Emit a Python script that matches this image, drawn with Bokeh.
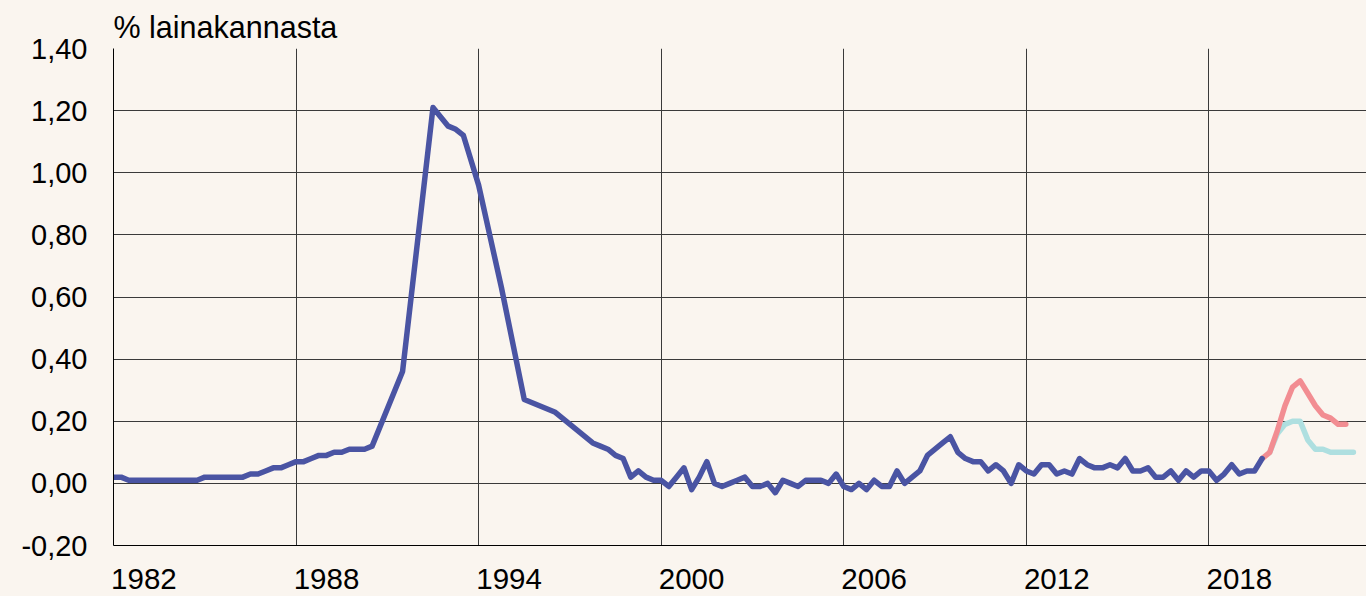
from bokeh.plotting import figure
from bokeh.models import Range1d, FixedTicker, CustomJSTickFormatter, GlobalInlineStyleSheet
from bokeh.embed import file_html
from bokeh.resources import INLINE

# ---------------- data ----------------
# realised credit losses, % of loan stock, quarterly
early_start = 1982.0
early_values = [0.02, 0.02, 0.01, 0.01,
                0.01, 0.01, 0.01, 0.01,
                0.01, 0.01, 0.01, 0.01,
                0.02, 0.02, 0.02, 0.02,
                0.02, 0.02, 0.03, 0.03,
                0.04, 0.05, 0.05, 0.06,
                0.07, 0.07, 0.08, 0.09,
                0.09, 0.10, 0.10, 0.11,
                0.11, 0.11, 0.12]

crisis_dates = [1991.5, 1992.5, 1993.0, 1993.25, 1993.5, 1994.0, 1994.75, 1995.5, 1996.5, 1997.75]
crisis_values = [0.36, 1.21, 1.15, 1.14, 1.12, 0.96, 0.63, 0.27, 0.23, 0.13]

late_start = 1998.0
late_values = [0.12, 0.11, 0.09, 0.08,    # 1998
               0.02, 0.04, 0.02, 0.01,    # 1999
               0.01, -0.01, 0.02, 0.05,   # 2000
               -0.02, 0.02, 0.07, 0.00,   # 2001
               -0.01, 0.00, 0.01, 0.02,   # 2002
               -0.01, -0.01, 0.00, -0.03, # 2003
               0.01, 0.00, -0.01, 0.01,   # 2004
               0.01, 0.01, 0.00, 0.03,    # 2005
               -0.01, -0.02, 0.00, -0.02, # 2006
               0.01, -0.01, -0.01, 0.04,  # 2007
               0.00, 0.02, 0.04, 0.09,    # 2008
               0.11, 0.13, 0.15, 0.10,    # 2009
               0.08, 0.07, 0.07, 0.04,    # 2010
               0.06, 0.04, 0.00, 0.06,    # 2011
               0.04, 0.03, 0.06, 0.06,    # 2012
               0.03, 0.04, 0.03, 0.08,    # 2013
               0.06, 0.05, 0.05, 0.06,    # 2014
               0.05, 0.08, 0.04, 0.04,    # 2015
               0.05, 0.02, 0.02, 0.04,    # 2016
               0.01, 0.04, 0.02, 0.04,    # 2017
               0.04, 0.01, 0.03, 0.06,    # 2018
               0.03, 0.04, 0.04, 0.08]    # 2019

high_start = 2019.75
high_values = [0.08, 0.10, 0.17, 0.25, 0.31, 0.33, 0.29, 0.25, 0.22, 0.21, 0.19, 0.19]

low_start = 2020.0
low_values = [0.10, 0.16, 0.19, 0.20, 0.20, 0.14, 0.11, 0.11, 0.10, 0.10, 0.10, 0.10]

y_ticks = [-0.2, 0.0, 0.2, 0.4, 0.6, 0.8, 1.0, 1.2, 1.4]
x_label_years = [1982, 1988, 1994, 2000, 2006, 2012, 2018]
x_grid_years = [1988, 1994, 2000, 2006, 2012, 2018]
title_text = "% lainakannasta"

# ---------------- styles ----------------
BG = "#FAF5EF"
BLUE = "#4A54A3"
RED = "#F28D92"
CYAN = "#AEDFE0"
GRID = "#3A3A3A"
FONT = "Liberation Sans"
LW = 5.5


def quarterly(start, values):
    return [start + 0.25 * i for i in range(len(values))]


actual_x = quarterly(early_start, early_values) + crisis_dates + quarterly(late_start, late_values)
actual_y = early_values + crisis_values + late_values

p = figure(frame_width=1253, frame_height=497,
           x_range=Range1d(1982.0, 2023.18), y_range=Range1d(-0.2, 1.4),
           output_backend="svg", toolbar_location=None,
           min_border_left=113, min_border_right=0, min_border_top=48, min_border_bottom=51,
           background_fill_color=BG, border_fill_color=BG, outline_line_color=None)

p.stylesheets = [GlobalInlineStyleSheet(
    css=f"html, body {{ background: {BG}; margin: 0; padding: 0; overflow: hidden; }}")]

# title
p.title.text = title_text
p.title.align = "left"
p.title.vertical_align = "top"
p.title.text_font = FONT
p.title.text_font_size = "30.5px"
p.title.text_font_style = "normal"
p.title.text_color = "#000000"
p.title.standoff = 6

# grids
p.ygrid.ticker = FixedTicker(ticks=y_ticks)
p.ygrid.grid_line_color = GRID
p.ygrid.grid_line_width = 1
p.xgrid.ticker = FixedTicker(ticks=x_grid_years)
p.xgrid.grid_line_color = GRID
p.xgrid.grid_line_width = 1

# y axis
yax = p.yaxis[0]
yax.ticker = FixedTicker(ticks=y_ticks)
yax.formatter = CustomJSTickFormatter(code="return tick.toFixed(2).replace('.', ',');")
yax.major_tick_in = 0
yax.major_tick_out = 0
yax.minor_tick_line_color = None
yax.axis_line_color = "#000000"
yax.major_label_text_font = FONT
yax.major_label_text_font_size = "29px"
yax.major_label_text_color = "#000000"
yax.major_label_standoff = 26

# x axis: labels start at the gridline of their year
label_pos = [yr + 1 for yr in x_label_years]
xax = p.xaxis[0]
xax.ticker = FixedTicker(ticks=label_pos)
xax.major_label_overrides = {pos: str(yr) for pos, yr in zip(label_pos, x_label_years)}
xax.major_tick_in = 0
xax.major_tick_out = 0
xax.minor_tick_line_color = None
xax.axis_line_color = "#000000"
xax.major_label_text_font = FONT
xax.major_label_text_font_size = "29.5px"
xax.major_label_text_color = "#000000"
xax.major_label_standoff = 23

# lines
p.line(quarterly(low_start, low_values), low_values, line_color=CYAN, line_width=LW,
       line_join="round", line_cap="round")
p.line(quarterly(high_start, high_values), high_values, line_color=RED, line_width=LW,
       line_join="round", line_cap="round")
p.line(actual_x, actual_y, line_color=BLUE, line_width=LW, line_join="round", line_cap="round")

open("out.html", "w").write(file_html(p, INLINE))
